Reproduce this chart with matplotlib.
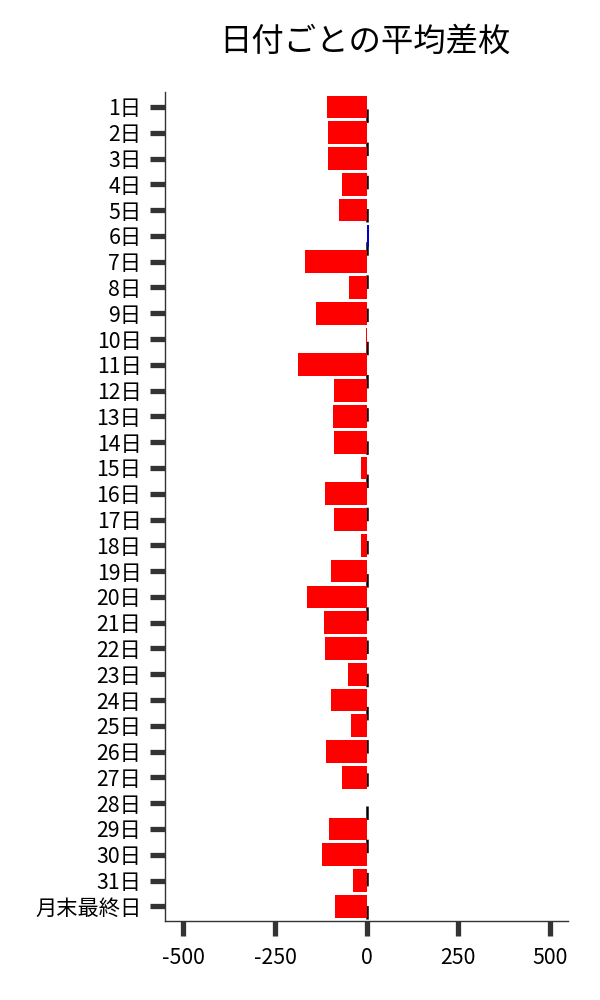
import matplotlib
matplotlib.use("Agg")
import matplotlib.pyplot as plt
import numpy as np

plt.rcParams['font.family'] = ['Noto Sans CJK JP', 'DejaVu Sans']

categories = [f"{d}日" for d in range(1, 32)] + ["月末最終日"]
values = [-109, -106, -106, -68, -76, 6, -169, -49, -139, -3,
          -188, -90, -92, -90, -16, -114, -90, -16, -98, -163,
          -117, -114, -52, -98, -43, -111, -68, 2, -103, -122,
          -36, -85]
xticks = [-500, -250, 0, 250, 500]
xlim = (-550, 550)

fig = plt.figure(figsize=(6, 10), dpi=100)
ax = fig.add_axes([0.275, 0.079, 0.672, 0.829])

y = np.arange(len(categories))
colors = ['#ff0000' if v < 0 else '#0000cd' for v in values]
ax.barh(y, values, height=0.88, color=colors, zorder=2)

# dashed zero line
lw = 1.8
ax.plot([0, 0], [0, 1], transform=ax.get_xaxis_transform(), color='black',
        lw=lw, linestyle=(22.5 / lw, (9.7 / lw, 14.2 / lw)),
        dash_capstyle='butt', zorder=1.9)

ax.set_yticks(y)
ax.set_yticklabels(categories)
ax.set_ylim(len(categories) - 0.43, -0.58)
ax.set_xlim(*xlim)
ax.set_xticks(xticks)
ax.set_xticklabels([str(t) for t in xticks])

for s in ['top', 'right']:
    ax.spines[s].set_visible(False)
for s in ['left', 'bottom']:
    ax.spines[s].set_color('#333333')
    ax.spines[s].set_linewidth(1.0)

ax.tick_params(axis='both', direction='out', length=11, width=3.8,
               color='#333333', labelsize=15.3, labelcolor='black')
ax.tick_params(axis='y', pad=6)
ax.tick_params(axis='x', pad=8)

fig.text(0.609, 0.958, "日付ごとの平均差枚", ha='center', va='center', fontsize=23.3)

fig.savefig("out.png", dpi=100, facecolor='white')
